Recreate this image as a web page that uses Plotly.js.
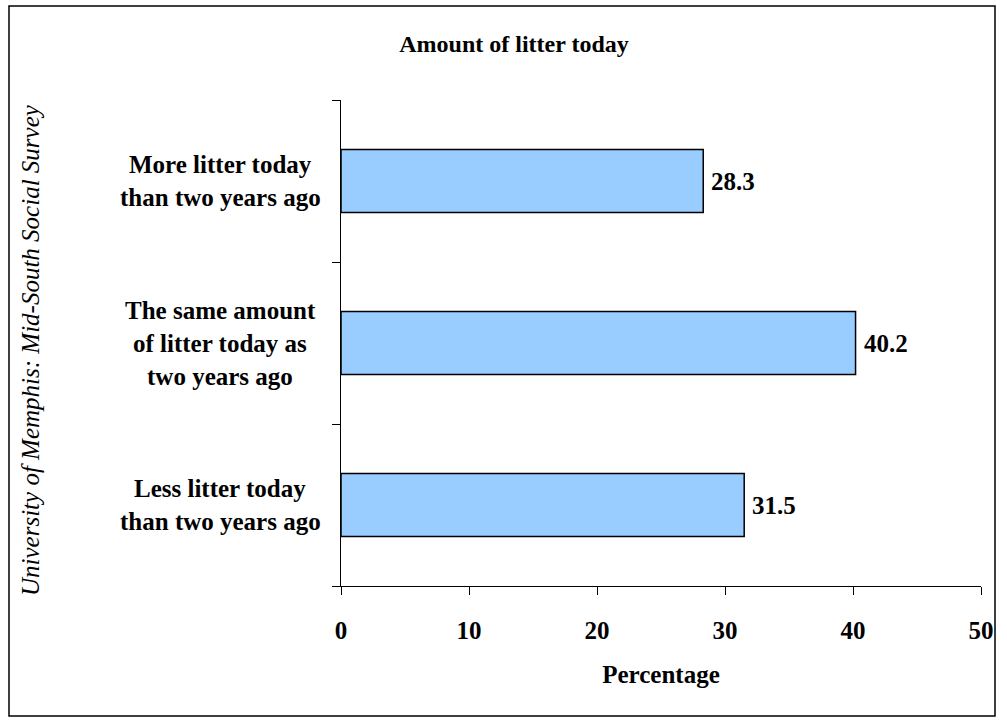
<!DOCTYPE html>
<html>
<head>
<meta charset="utf-8">
<script src="https://cdn.plot.ly/plotly-3.0.1.min.js"></script>
<style>
  html, body { margin: 0; padding: 0; background: #ffffff; }
  #chart { width: 1007px; height: 724px; }
</style>
</head>
<body>
<div id="chart"></div>
<script>
// ---- data ----
const categories = [
  "Less litter today<br>than two years ago",
  "The same amount<br>of litter today as<br>two years ago",
  "More litter today<br>than two years ago"
];
const percentages = [31.5, 40.2, 28.3];
const xTickValues = [0, 10, 20, 30, 40, 50];
const chartTitle = "Amount of litter today";
const xTitle = "Percentage";
const sourceNote = "University of Memphis: Mid-South Social Survey";

// ---- layout constants ----
const W = 1007, H = 724;
const L = 341, R = 981, T = 100, B = 586;
const pw = R - L, ph = B - T;
const px = v => (v - L) / pw;
const py = v => (B - v) / ph;
const serif = 'Liberation Serif, Times New Roman, Times, serif';
const lineGap = 33;

const annotations = [];
// category labels (centered multiline)
categories.forEach((lab, ci) => {
  const lines = lab.split("<br>");
  const n = lines.length;
  lines.forEach((ln, i) => {
    annotations.push({
      xref: "paper", yref: "y", x: px(220), y: ci,
      text: ln, showarrow: false, xanchor: "center", yanchor: "middle",
      yshift: ((n - 1) / 2 - i) * lineGap,
      font: { family: serif, size: 25, color: "#000", weight: "bold" }
    });
  });
});
// value labels
percentages.forEach((v, ci) => {
  annotations.push({
    xref: "x", yref: "y", x: v, y: ci,
    text: v.toFixed(1), showarrow: false, xanchor: "left", yanchor: "middle",
    xshift: 6,
    font: { family: serif, size: 25, color: "#000", weight: "bold" }
  });
});
// vertical source note
annotations.push({
  xref: "paper", yref: "paper", x: px(30), y: py(350),
  text: sourceNote, showarrow: false, textangle: -90,
  xanchor: "center", yanchor: "middle",
  font: { family: serif, size: 25, color: "#000", style: "italic" }
});

const trace = {
  type: "bar", orientation: "h",
  y: categories, x: percentages,
  marker: { color: "#99CCFF", line: { color: "#000000", width: 1.5 } },
  hoverinfo: "none"
};

const layout = {
  width: W, height: H,
  margin: { l: L, r: W - R, t: T, b: H - B, pad: 0 },
  paper_bgcolor: "#ffffff", plot_bgcolor: "#ffffff",
  showlegend: false,
  bargap: 0.61,
  title: {
    text: chartTitle, x: 514 / W, xanchor: "center",
    y: 1 - 44 / H, yanchor: "middle", yref: "container",
    font: { family: serif, size: 24, color: "#000", weight: "bold" }
  },
  xaxis: {
    range: [0, 50], tickvals: xTickValues, ticktext: xTickValues.map(String),
    ticks: "outside", ticklen: 8, tickwidth: 1, tickcolor: "#000",
    showline: true, linecolor: "#000", linewidth: 1,
    showgrid: false, zeroline: false,
    tickfont: { family: serif, size: 25, color: "#000", weight: "bold" },
    ticklabelstandoff: 14,
    title: { text: xTitle, standoff: 22,
      font: { family: serif, size: 25, color: "#000", weight: "bold" } }
  },
  yaxis: {
    type: "category", categoryorder: "array", categoryarray: categories,
    range: [-0.5, 2.5], tickson: "boundaries",
    ticks: "outside", ticklen: 8, tickwidth: 1, tickcolor: "#000",
    showticklabels: false,
    showline: true, linecolor: "#000", linewidth: 1,
    showgrid: false, zeroline: false
  },
  shapes: [{
    type: "rect", xref: "paper", yref: "paper",
    x0: px(9), x1: px(995), y0: py(716), y1: py(6),
    line: { color: "#000", width: 1.5 }, fillcolor: "rgba(0,0,0,0)"
  }],
  annotations: annotations
};

Plotly.newPlot("chart", [trace], layout, { displayModeBar: false, staticPlot: true });
</script>
</body>
</html>
